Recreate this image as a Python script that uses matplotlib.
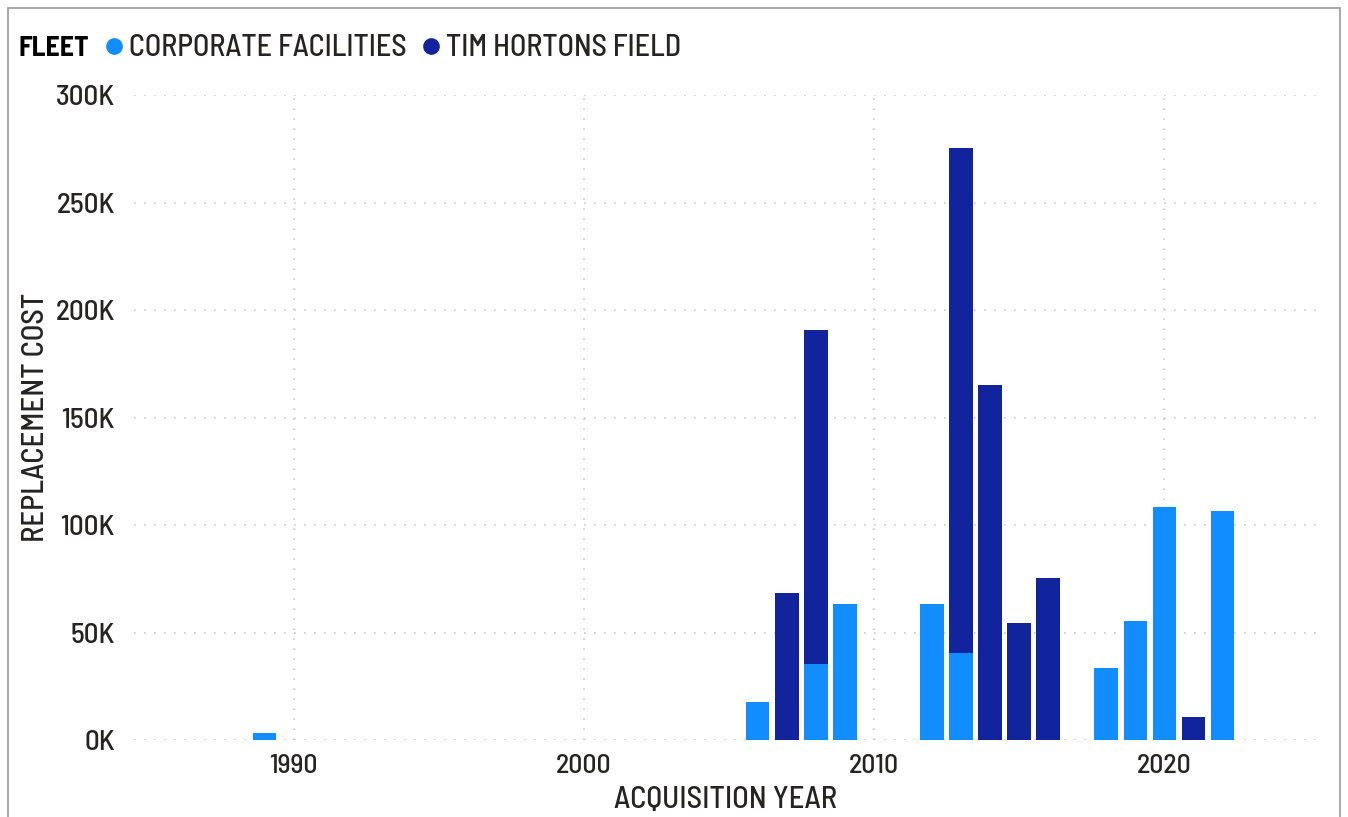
import matplotlib
matplotlib.use('Agg')
import matplotlib.pyplot as plt
import matplotlib.lines as mlines
from matplotlib.patches import Rectangle
from matplotlib.ticker import FuncFormatter
import numpy as np

plt.rcParams['font.family'] = ['Barlow Semi Condensed', 'DejaVu Sans']
plt.rcParams['font.weight'] = 500
plt.rcParams['axes.labelweight'] = 500

# Стоимость замены по году приобретения (в долларах)
years = [1989, 2006, 2007, 2008, 2009, 2012, 2013, 2014, 2015, 2016, 2018, 2019, 2020, 2021, 2022]
corporate = [3500, 17500, 0, 35500, 63500, 63500, 40500, 0, 0, 0, 33500, 55500, 108500, 0, 106500]
tim_hortons = [0, 0, 68500, 155000, 0, 0, 235000, 165000, 54500, 75500, 0, 0, 0, 10500, 0]

series_names = ['CORPORATE FACILITIES', 'TIM HORTONS FIELD']
series_colors = ['#118DFF', '#12239E']
text_color = '#252423'

fig = plt.figure(figsize=(13.48, 8.17), dpi=100)
ax = fig.add_axes([0.0994, 0.0942, 0.8783, 0.7895])

x = np.array(years)
corp = np.array(corporate)
th = np.array(tim_hortons)
ax.bar(x, corp, width=0.8, color=series_colors[0], zorder=3)
ax.bar(x, th, width=0.8, bottom=corp, color=series_colors[1], zorder=3)

ax.set_xlim(1984.5, 2025.3)
ax.set_ylim(0, 300000)
ax.set_xticks([1990, 2000, 2010, 2020])
ax.set_yticks(np.arange(0, 300001, 50000))
ax.yaxis.set_major_formatter(FuncFormatter(lambda v, _: f'{int(v / 1000)}K'))
ax.tick_params(length=0, colors=text_color)
ax.tick_params(axis='y', pad=14, labelsize=21)
ax.tick_params(axis='x', pad=10, labelsize=20)

ax.grid(True, linestyle=(0, (1, 5)), color='#c8c8c8', linewidth=1.2, zorder=0)
for side in ax.spines.values():
    side.set_visible(False)

ax.set_xlabel('ACQUISITION YEAR', fontsize=22, color=text_color, labelpad=6)
ax.set_ylabel('REPLACEMENT COST', fontsize=22, color=text_color, labelpad=4)

# Легенда в одну строку над графиком
fig.text(0.0135, 0.941, 'FLEET', fontsize=20, fontweight='bold', color='black', va='center')
handles = [
    mlines.Line2D([], [], linestyle='none', marker='o', markersize=11,
                  color=c, label=n)
    for n, c in zip(series_names, series_colors)
]
fig.legend(handles=handles, loc='center left', bbox_to_anchor=(0.062, 0.941),
           ncol=2, frameon=False, fontsize=21.7, handletextpad=0.0,
           columnspacing=0.3, borderpad=0, handlelength=1.0,
           labelcolor=text_color)

# Рамка визуала
fig.add_artist(Rectangle((0.006, -0.05), 0.988, 1.04, transform=fig.transFigure,
                         fill=False, edgecolor='#9a9a9a', linewidth=1.2))

fig.savefig('out.png', dpi=100)
